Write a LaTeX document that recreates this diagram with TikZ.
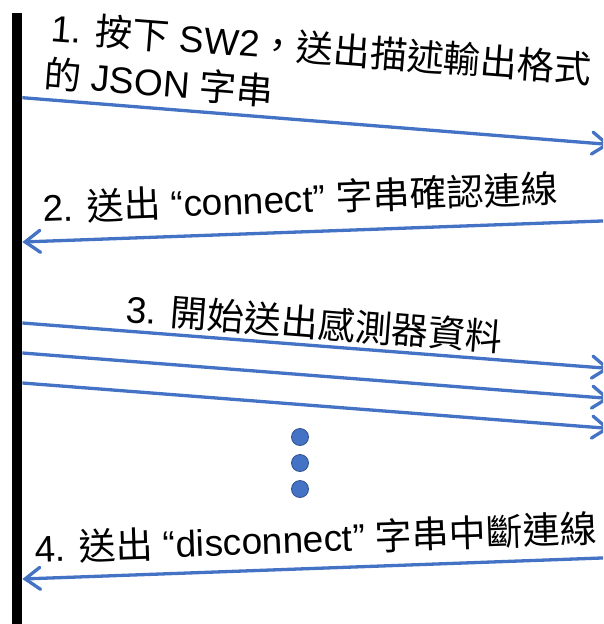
\documentclass[tikz,border=0pt]{standalone}
\usepackage{fontspec}
\setmainfont{Liberation Sans}
\newfontfamily\cjk{Noto Sans CJK TC}
\newcommand\zh[1]{{\cjk #1}}
\usepackage{xcolor}
\usetikzlibrary{arrows.meta,calc}
\definecolor{inkK}{HTML}{000000}
\definecolor{cBlu}{HTML}{4472C4}
\definecolor{cBluD}{HTML}{2F528F}

\begin{document}
\begin{tikzpicture}[x=1pt, y=-1pt,
    msg/.style={draw=cBlu, line width=3.3pt,
                -{Straight Barb[length=15pt, width=22pt, line cap=round]}},
    lbl/.style={anchor=base west, inner sep=0pt, text=inkK,
                font=\fontsize{37}{44}\selectfont},
    dotn/.style={circle, fill=cBlu, draw=cBluD, line width=0.8pt,
                 minimum size=17pt, inner sep=0pt}]
  \useasboundingbox (0,0) rectangle (603,624);
  \clip (0,0) rectangle (603,624);

  \node (bar) [fill=black, inner sep=0pt, minimum width=10pt,
               minimum height=620pt, anchor=north west] at (12,13) {};

  \node (t1a) [lbl, rotate=-4.5] at (50,41) {1. \zh{按下} SW2\zh{，送出描述輸出格式}};
  \node (t1b) [lbl, rotate=-4.5] at (43,87) {\zh{的} JSON \zh{字串}};
  \coordinate (e1) at (610,144.5);
  \draw[msg] (bar.east |- 0,97.7) -- (e1);

  \node (t2) [lbl, rotate=2.2] at (43,222) {2. \zh{送出} “connect” \zh{字串確認連線}};
  \coordinate (e2) at (610,220.7);
  \draw[msg] (e2) -- (bar.east |- 0,242);

  \node (t3) [lbl, rotate=-4.5] at (125,322) {3. \zh{開始送出感測器資料}};
  \foreach \ys [count=\i] in {323,353,383} {
    \coordinate (e3\i) at (610,\ys+45.5);
    \draw[msg] (bar.east |- 0,\ys) -- (e3\i);
  }

  \foreach \yd [count=\i] in {437,463,489}
    \node (dot\i) [dotn] at (300,\yd) {};

  \node (t4) [lbl, rotate=2.0] at (35,562) {4. \zh{送出} “disconnect” \zh{字串中斷連線}};
  \coordinate (e4) at (610,557.7);
  \draw[msg] (e4) -- (bar.east |- 0,579);
\end{tikzpicture}
\end{document}
